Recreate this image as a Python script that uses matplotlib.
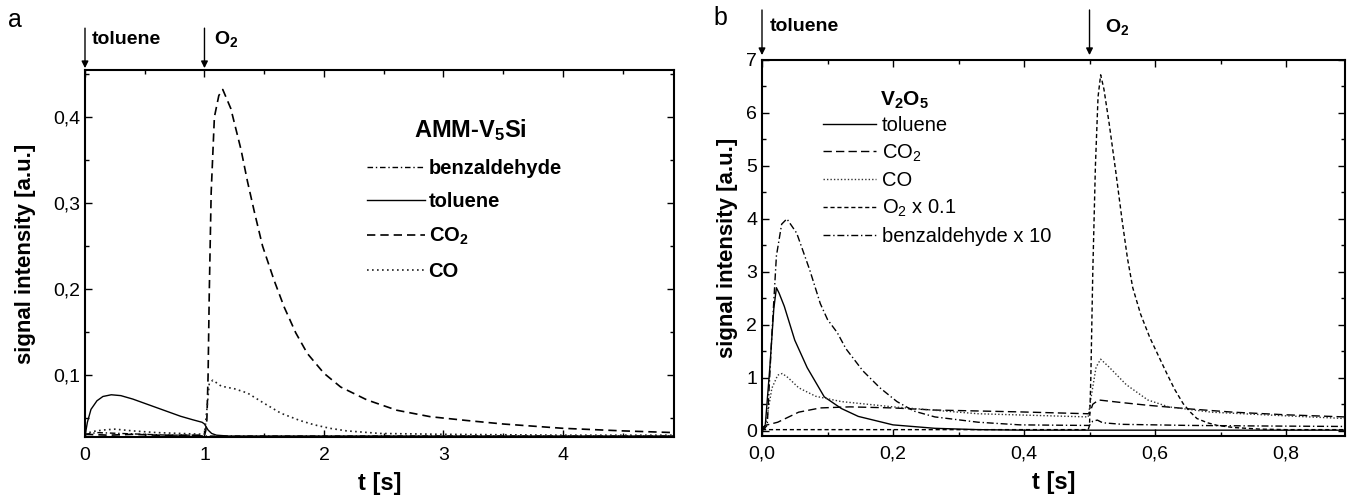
import matplotlib
matplotlib.use('Agg')
import matplotlib.pyplot as plt
from matplotlib.ticker import MultipleLocator, FuncFormatter
from matplotlib.transforms import blended_transform_factory

plt.rcParams['font.family'] = ['Liberation Sans', 'DejaVu Sans']
plt.rcParams['mathtext.fontset'] = 'custom'
plt.rcParams['mathtext.rm'] = 'Liberation Sans'
plt.rcParams['mathtext.bf'] = 'Liberation Sans:bold'
plt.rcParams['mathtext.default'] = 'regular'

# ---- panel a : AMM-V5Si ----
t_tol_a = [0, 0.02, 0.05, 0.1, 0.15, 0.22, 0.3, 0.4, 0.5, 0.6, 0.7, 0.8, 0.9, 0.98, 1.0,
           1.03, 1.06, 1.1, 1.2, 1.5, 2.0, 3.0, 4.0, 4.93]
tol_a = [0.029, 0.045, 0.060, 0.070, 0.075, 0.077, 0.076, 0.072, 0.067, 0.062, 0.057, 0.052,
         0.048, 0.045, 0.043, 0.036, 0.032, 0.030, 0.029, 0.029, 0.029, 0.029, 0.029, 0.029]

t_co2_a = [0, 0.2, 0.4, 0.6, 0.8, 1.0, 1.01, 1.02, 1.03, 1.04, 1.056, 1.083, 1.12, 1.153, 1.22,
           1.306, 1.36, 1.417, 1.486, 1.583, 1.667, 1.764, 1.861, 2.0, 2.14, 2.36, 2.61, 2.89,
           3.2, 3.5, 4.0, 4.5, 4.93]
co2_a = [0.031, 0.030, 0.031, 0.030, 0.030, 0.030, 0.035, 0.048, 0.098, 0.195, 0.312, 0.400,
         0.425, 0.432, 0.410, 0.362, 0.325, 0.290, 0.250, 0.210, 0.179, 0.149, 0.125, 0.102,
         0.086, 0.071, 0.059, 0.0515, 0.047, 0.043, 0.038, 0.035, 0.033]

t_co_a = [0, 0.05, 0.15, 0.25, 0.4, 0.6, 0.8, 1.0, 1.02, 1.04, 1.07, 1.14, 1.25, 1.36, 1.5, 1.64,
          1.8, 1.92, 2.05, 2.19, 2.47, 3.0, 4.0, 4.93]
co_a = [0.030, 0.034, 0.036, 0.037, 0.035, 0.033, 0.032, 0.031, 0.060, 0.090, 0.094, 0.087,
        0.084, 0.079, 0.067, 0.0555, 0.047, 0.042, 0.038, 0.035, 0.032, 0.031, 0.030, 0.030]

t_benz_a = [0, 0.1, 0.3, 0.5, 0.7, 0.9, 1.0, 1.1, 1.5, 2.5, 3.5, 4.93]
benz_a = [0.031, 0.033, 0.032, 0.031, 0.030, 0.030, 0.029, 0.029, 0.029, 0.029, 0.029, 0.029]

# ---- panel b : V2O5 ----
t_tol_b = [0, 0.005, 0.012, 0.018, 0.022, 0.026, 0.034, 0.05, 0.069, 0.095, 0.121, 0.147, 0.2,
           0.264, 0.33, 0.4, 0.5, 0.6, 0.7, 0.89]
tol_b = [0.0, 0.1, 1.2, 2.3, 2.7, 2.6, 2.35, 1.71, 1.19, 0.64, 0.42, 0.27, 0.11, 0.045, 0.02,
         0.01, 0.01, 0.01, 0.01, 0.01]

t_co2_b = [0, 0.005, 0.024, 0.056, 0.089, 0.134, 0.2, 0.264, 0.394, 0.498, 0.5, 0.505, 0.514,
           0.55, 0.589, 0.654, 0.719, 0.8, 0.89]
co2_b = [0.05, 0.1, 0.16, 0.35, 0.43, 0.45, 0.43, 0.39, 0.355, 0.32, 0.32, 0.5, 0.58, 0.53,
         0.48, 0.41, 0.35, 0.3, 0.26]

t_co_b = [0, 0.005, 0.015, 0.024, 0.031, 0.04, 0.056, 0.082, 0.121, 0.2, 0.33, 0.498, 0.502,
          0.51, 0.517, 0.53, 0.556, 0.589, 0.621, 0.686, 0.784, 0.89]
co_b = [0, 0.05, 0.8, 1.05, 1.08, 1.0, 0.81, 0.65, 0.55, 0.45, 0.32, 0.26, 0.6, 1.2, 1.35, 1.2,
        0.87, 0.58, 0.45, 0.35, 0.29, 0.23]

t_o2_b = [0, 0.1, 0.3, 0.498, 0.5, 0.502, 0.505, 0.509, 0.513, 0.517, 0.522, 0.53, 0.54, 0.55,
          0.558, 0.566, 0.578, 0.592, 0.605, 0.618, 0.63, 0.643, 0.654, 0.664, 0.68, 0.695,
          0.72, 0.76, 0.8, 0.89]
o2_b = [0.02, 0.02, 0.02, 0.02, 0.1, 1.0, 3.0, 5.0, 6.3, 6.72, 6.45, 5.8, 4.9, 3.95, 3.25,
        2.7, 2.2, 1.76, 1.42, 1.08, 0.78, 0.51, 0.35, 0.23, 0.15, 0.1, 0.06, 0.03, 0.02, 0.02]

t_benz_b = [0, 0.008, 0.015, 0.022, 0.03, 0.038, 0.053, 0.073, 0.089, 0.1, 0.115, 0.128, 0.154,
            0.18, 0.206, 0.232, 0.264, 0.33, 0.394, 0.49, 0.5, 0.505, 0.512, 0.52, 0.55, 0.65,
            0.75, 0.89]
benz_b = [0, 0.1, 1.8, 3.3, 3.9, 4.0, 3.73, 3.03, 2.4, 2.1, 1.85, 1.55, 1.13, 0.81, 0.55, 0.37,
          0.26, 0.16, 0.11, 0.1, 0.1, 0.18, 0.2, 0.15, 0.12, 0.1, 0.09, 0.08]


def comma(fmt):
    return FuncFormatter(lambda v, p: (fmt % v).replace('.', ','))


def style_axes(ax, ypad):
    ax.tick_params(which='both', direction='in', top=True, right=True, labelsize=14, width=1)
    ax.tick_params(which='major', length=5)
    ax.tick_params(which='minor', length=3)
    ax.tick_params(axis='x', pad=7)
    for s in ax.spines.values():
        s.set_linewidth(1.5)
    ax.set_ylabel('signal intensity [a.u.]', fontsize=16, fontweight='bold', labelpad=ypad)
    ax.set_xlabel('t [s]', fontsize=17, fontweight='bold', labelpad=6)


def pulse_arrow(ax, x, y0, y1, label, dx, ty):
    tr = blended_transform_factory(ax.transData, ax.transAxes)
    ax.annotate('', xy=(x, y1), xycoords=tr, xytext=(x, y0), textcoords=tr,
                arrowprops=dict(arrowstyle='-|>', color='black', lw=1, mutation_scale=10,
                                shrinkA=0, shrinkB=0), annotation_clip=False)
    ax.text(x + dx, ty, label, transform=tr, fontsize=14, fontweight='bold', va='center',
            ha='left', clip_on=False)


fig = plt.figure(figsize=(13.47, 4.95), dpi=100)
ax1 = fig.add_axes([0.0631, 0.1172, 0.4373, 0.7414])
ax2 = fig.add_axes([0.5657, 0.1192, 0.4328, 0.7596])

# panel a
ax1.plot(t_benz_a, benz_a, color='black', lw=1.0, ls=(0, (4, 2, 1, 2)), label='benzaldehyde')
ax1.plot(t_tol_a, tol_a, color='black', lw=1.0, ls='-', label='toluene')
ax1.plot(t_co2_a, co2_a, color='black', lw=1.2, ls=(0, (5, 3)), label='CO$_\\mathbf{2}$')
ax1.plot(t_co_a, co_a, color='#222222', lw=1.2, ls=(0, (1, 2)), label='CO')
ax1.set_xlim(0, 4.93)
ax1.set_ylim(0.0279, 0.4547)
ax1.xaxis.set_major_locator(MultipleLocator(1))
ax1.xaxis.set_minor_locator(MultipleLocator(0.5))
ax1.yaxis.set_major_locator(MultipleLocator(0.1))
ax1.yaxis.set_minor_locator(MultipleLocator(0.05))
ax1.yaxis.set_major_formatter(comma('%.1f'))
style_axes(ax1, 12)
leg1 = ax1.legend(loc='upper left', bbox_to_anchor=(0.479, 0.758), frameon=False,
                  handlelength=2.85, handletextpad=0.2, labelspacing=0.72, borderpad=0,
                  borderaxespad=0, prop={'size': 14.5, 'weight': 'bold'})
ax1.text(0.655, 0.837, 'AMM-V$_\\mathbf{5}$Si', transform=ax1.transAxes, fontsize=17,
         fontweight='bold', ha='center', va='center')
pulse_arrow(ax1, 0, 1.114, 1.005, 'toluene', 0.054, 1.084)
pulse_arrow(ax1, 1, 1.114, 1.005, 'O$_\\mathbf{2}$', 0.08, 1.084)

# panel b
ax2.plot(t_tol_b, tol_b, color='black', lw=1.0, ls='-', label='toluene')
ax2.plot(t_co2_b, co2_b, color='black', lw=1.0, ls=(0, (6, 3)), label='CO$_2$')
ax2.plot(t_co_b, co_b, color='#333333', lw=1.0, ls=(0, (1, 1.5)), label='CO')
ax2.plot(t_o2_b, o2_b, color='black', lw=1.0, ls=(0, (3, 2)), label='O$_2$ x 0.1')
ax2.plot(t_benz_b, benz_b, color='black', lw=1.0, ls=(0, (5, 2, 1, 2)), label='benzaldehyde x 10')
ax2.set_xlim(0, 0.89)
ax2.set_ylim(-0.1, 7)
ax2.xaxis.set_major_locator(MultipleLocator(0.2))
ax2.xaxis.set_minor_locator(MultipleLocator(0.1))
ax2.yaxis.set_major_locator(MultipleLocator(1))
ax2.yaxis.set_minor_locator(MultipleLocator(0.5))
ax2.xaxis.set_major_formatter(comma('%.1f'))
style_axes(ax2, 6)
leg2 = ax2.legend(loc='upper left', bbox_to_anchor=(0.105, 0.852), frameon=False,
                  handlelength=2.6, handletextpad=0.3, labelspacing=0.38, borderpad=0,
                  borderaxespad=0, prop={'size': 14.5})
ax2.text(0.202, 0.894, 'V$_\\mathbf{2}$O$_\\mathbf{5}$', transform=ax2.transAxes, fontsize=15,
         fontweight='bold', ha='left', va='center')
pulse_arrow(ax2, 0, 1.133, 1.013, 'toluene', 0.012, 1.088)
pulse_arrow(ax2, 0.5, 1.133, 1.013, 'O$_\\mathbf{2}$', 0.024, 1.088)

fig.text(15 / 1347, 1 - 20 / 495, 'a', fontsize=18, ha='center', va='center')
fig.text(720 / 1347, 1 - 18 / 495, 'b', fontsize=18, ha='center', va='center')

fig.savefig('out.png', dpi=100)
